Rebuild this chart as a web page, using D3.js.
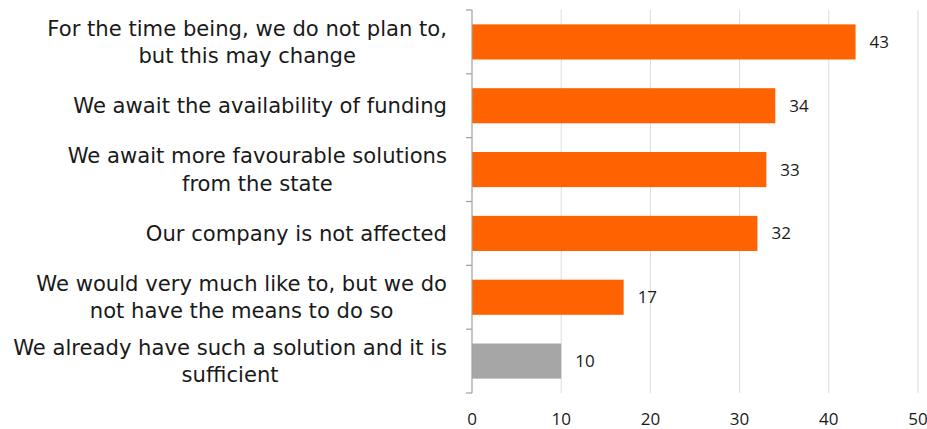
<!DOCTYPE html>
<html>
<head>
<meta charset="utf-8">
<script src="https://cdn.jsdelivr.net/npm/d3@7"></script>
<style>
  html, body { margin: 0; padding: 0; background: #fff; }
  svg { display: block; }
  text { font-family: "Open Sans", "Noto Sans", sans-serif; fill: #1a1a1a; }
  text.cat { font-family: "DejaVu Sans", "Open Sans", sans-serif; }
</style>
</head>
<body>
<svg id="chart" width="927" height="429"></svg>
<script>
// Survey answers, top to bottom
const categories = [
  ["For the time being, we do not plan to,", "but this may change"],
  ["We await the availability of funding"],
  ["We await more favourable solutions", "from the state"],
  ["Our company is not affected"],
  ["We would very much like to, but we do", "not have the means to do so"],
  ["We already have such a solution and it is", "sufficient"]
];
const values = [43, 34, 33, 32, 17, 10];
const highlight = [false, false, false, false, false, true];
const xTicks = [0, 10, 20, 30, 40, 50];

const svg = d3.select("#chart");
const margin = { top: 10, right: 9, bottom: 36, left: 472 };
const W = 927, H = 429;

const x = d3.scaleLinear().domain([0, 50]).range([margin.left, W - margin.right]);
const y = d3.scaleBand().domain(d3.range(values.length))
  .range([margin.top, H - margin.bottom]).paddingInner(0.45).paddingOuter(0.225);

// vertical gridlines
svg.append("g").selectAll("line").data(xTicks.slice(1)).join("line")
  .attr("x1", d => x(d)).attr("x2", d => x(d))
  .attr("y1", margin.top).attr("y2", H - margin.bottom)
  .attr("stroke", "#dcdcdc").attr("stroke-width", 1);

// bars
svg.append("g").selectAll("rect").data(values).join("rect")
  .attr("x", x(0))
  .attr("y", (d, i) => y(i))
  .attr("width", d => x(d) - x(0))
  .attr("height", y.bandwidth())
  .attr("fill", (d, i) => highlight[i] ? "#a6a6a6" : "#ff6200");

// value labels
svg.append("g").selectAll("text").data(values).join("text")
  .attr("x", d => x(d) + 14)
  .attr("y", (d, i) => y(i) + y.bandwidth() / 2)
  .attr("dy", "0.35em")
  .attr("font-size", 17)
  .text(d => d);

// left axis: line with ticks between categories
const bandEdges = d3.range(values.length + 1).map(i => margin.top + i * y.step());
const ax = svg.append("g").attr("stroke", "#a0a0a0").attr("stroke-width", 1.2);
ax.append("line").attr("x1", x(0)).attr("x2", x(0))
  .attr("y1", margin.top).attr("y2", H - margin.bottom);
ax.selectAll("line.tick").data(bandEdges).join("line").attr("class", "tick")
  .attr("x1", x(0) - 6).attr("x2", x(0)).attr("y1", d => d).attr("y2", d => d);

// category labels, sized so the first line spans 400px
const labelRight = 447, labelWidth = 400;
const probe = svg.append("text").attr("class", "cat").attr("font-size", 20).text(categories[0][0]);
const catSize = 20 * labelWidth / probe.node().getComputedTextLength();
probe.remove();

const lineH = 27.5;
const lab = svg.append("g").selectAll("text").data(categories).join("text")
  .attr("class", "cat")
  .attr("text-anchor", "middle")
  .attr("font-size", catSize)
  .attr("transform", (d, i) => `translate(0, ${y(i) + y.bandwidth() / 2})`);
lab.each(function(lines) {
  const t = d3.select(this);
  const n = lines.length;
  lines.forEach((s, k) => {
    t.append("tspan").attr("x", 0).attr("y", (k - (n - 1) / 2) * lineH).attr("dy", "0.35em").text(s);
  });
});
// right-align each label block while keeping lines centred to each other
lab.each(function() {
  const bb = this.getBBox();
  const shift = labelRight - (bb.x + bb.width);
  const tr = d3.select(this).attr("transform");
  d3.select(this).attr("transform", tr.replace("translate(0,", `translate(${shift},`));
});

// x tick labels
svg.append("g").selectAll("text").data(xTicks).join("text")
  .attr("x", d => x(d)).attr("y", 425)
  .attr("text-anchor", "middle").attr("font-size", 17)
  .text(d => d);
</script>
</body>
</html>
